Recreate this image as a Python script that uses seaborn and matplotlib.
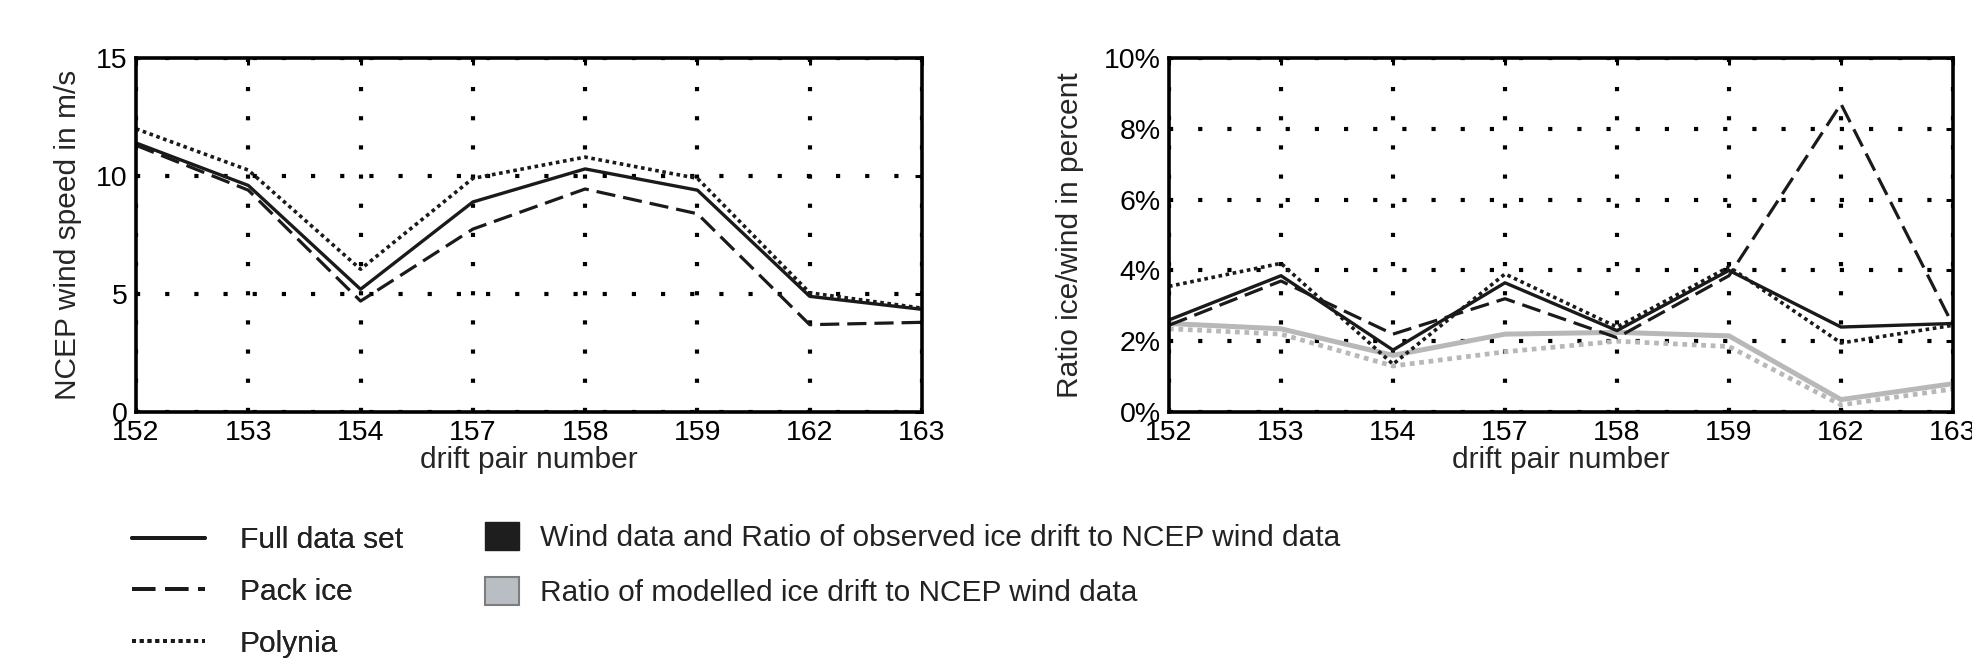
import matplotlib
matplotlib.use("Agg")
import matplotlib.pyplot as plt
import seaborn as sns
import pandas as pd
from matplotlib.lines import Line2D
from matplotlib.patches import Patch
from matplotlib.ticker import PercentFormatter

# drift pairs on the x axis (evenly spaced categories)
drift_pairs = ["152", "153", "154", "157", "158", "159", "162", "163"]

# NCEP wind speed in m/s
wind_full = [11.4, 9.6, 5.2, 8.9, 10.3, 9.4, 4.9, 4.35]
wind_pack = [11.3, 9.4, 4.7, 7.75, 9.45, 8.4, 3.7, 3.8]
wind_polynia = [12.0, 10.25, 6.05, 9.9, 10.8, 9.9, 5.05, 4.4]

# ratio of observed ice drift to wind (percent)
obs_full = [2.6, 3.85, 1.75, 3.65, 2.3, 4.0, 2.4, 2.5]
obs_pack = [2.45, 3.7, 2.2, 3.2, 2.1, 3.85, 8.7, 2.45]
obs_polynia = [3.55, 4.2, 1.35, 3.9, 2.4, 4.1, 1.95, 2.45]

# ratio of modelled ice drift to wind (percent)
mod_full = [2.5, 2.35, 1.6, 2.2, 2.25, 2.15, 0.35, 0.8]
mod_polynia = [2.35, 2.2, 1.3, 1.7, 2.0, 1.85, 0.2, 0.65]

legend_lines = ["Full data set", "Pack ice", "Polynia"]
legend_colors = ["Wind data and Ratio of observed ice drift to NCEP wind data",
                 "Ratio of modelled ice drift to NCEP wind data"]

BLACK = "#1a1a1a"
GRAY = "#b8b8b8"
STYLES = {
    "solid": dict(linestyle="-"),
    "dash": dict(linestyle=(0, (6, 2.5))),
    "dot": dict(linestyle=(0, (1, 1))),
}

sns.set_theme(style="white")
plt.rcParams.update({
    "font.family": ["Liberation Sans", "DejaVu Sans"],
    "font.size": 20,
    "axes.linewidth": 2.6,
    "axes.edgecolor": "black",
    "xtick.color": "black",
    "ytick.color": "black",
    "text.color": "#222222",
})


def style_axes(ax):
    ax.set_xlim(0, len(drift_pairs) - 1)
    ax.grid(True, color="black", linewidth=3.0, linestyle=(0, (1, 6)))
    ax.tick_params(axis="both", direction="in", length=5, width=2.2,
                   top=True, right=True, labelsize=20.5, pad=6)
    for s in ax.spines.values():
        s.set_visible(True)
        s.set_color("black")
    ax.set_xlabel("drift pair number", fontsize=21.5, labelpad=0)


def draw(ax, values, color, style, lw):
    df = pd.DataFrame({"pair": drift_pairs, "v": values})
    sns.lineplot(data=df, x="pair", y="v", ax=ax, color=color,
                 linewidth=lw, sort=False, **STYLES[style])


fig = plt.figure(figsize=(19.72, 6.58), dpi=100)
ax1 = fig.add_axes([136 / 1972, 1 - 412 / 658, 786 / 1972, 354 / 658])
ax2 = fig.add_axes([1169 / 1972, 1 - 412 / 658, 784 / 1972, 354 / 658])

draw(ax1, wind_full, BLACK, "solid", 2.4)
draw(ax1, wind_pack, BLACK, "dash", 2.3)
draw(ax1, wind_polynia, BLACK, "dot", 2.6)
style_axes(ax1)
ax1.set_ylim(0, 15)
ax1.set_yticks([0, 5, 10, 15])
ax1.set_ylabel("NCEP wind speed in m/s", fontsize=21.5)
ax1.yaxis.set_label_coords(-0.069, 0.5)

draw(ax2, mod_full, GRAY, "solid", 3.6)
draw(ax2, mod_polynia, GRAY, "dot", 3.4)
draw(ax2, obs_full, BLACK, "solid", 2.4)
draw(ax2, obs_pack, BLACK, "dash", 2.3)
draw(ax2, obs_polynia, BLACK, "dot", 2.6)
style_axes(ax2)
ax2.set_ylim(0, 10)
ax2.set_yticks([0, 2, 4, 6, 8, 10])
ax2.yaxis.set_major_formatter(PercentFormatter(xmax=100, decimals=0))
ax2.set_ylabel("Ratio ice/wind in percent", fontsize=21.5)
ax2.yaxis.set_label_coords(-0.108, 0.5)

line_handles = [Line2D([0], [0], color=BLACK, linewidth=2.8, **STYLES[k])
                for k in ["solid", "dash", "dot"]]
leg1 = fig.legend(line_handles, legend_lines, loc="upper left",
                  bbox_to_anchor=(132 / 1972, 1 - 526 / 658), frameon=False,
                  fontsize=21.5, handlelength=2.45, handletextpad=1.15,
                  labelspacing=0.8, borderpad=0, borderaxespad=0)
fig.add_artist(leg1)

patch_handles = [Patch(facecolor="#1e1e1e", edgecolor="#1e1e1e"),
                 Patch(facecolor="#b9bec4", edgecolor="#7d7d7d", linewidth=1.5)]
fig.legend(patch_handles, legend_colors, loc="upper left",
           bbox_to_anchor=(485 / 1972, 1 - 522 / 658), frameon=False,
           fontsize=21.5, handlelength=1.15, handleheight=1.05, handletextpad=0.7,
           labelspacing=0.85, borderpad=0, borderaxespad=0)

fig.savefig("out.png", dpi=100)
plt.close(fig)
